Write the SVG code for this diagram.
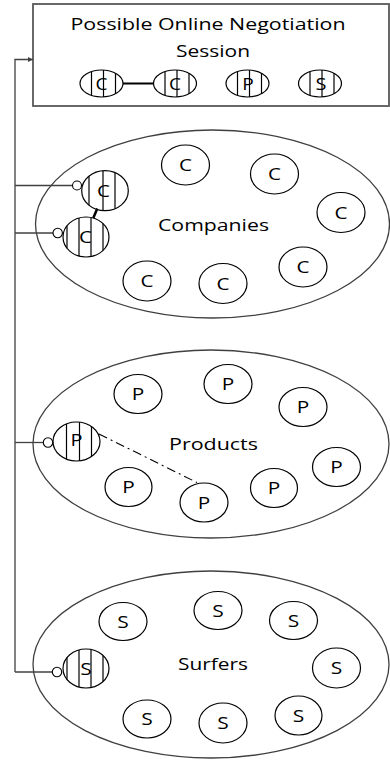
<svg xmlns="http://www.w3.org/2000/svg" width="390" height="760" viewBox="0 0 390 760">
<style>
  .bg{fill:#ffffff}
  .box{fill:#ffffff;stroke:#595959;stroke-width:1.8}
  .set{fill:none;stroke:#404040;stroke-width:1.3}
  .el{fill:#ffffff;stroke:#000000;stroke-width:1.2}
  .hatch{stroke:#000000;stroke-width:1.2}
  .t{font-family:"Open Sans","Liberation Sans",sans-serif;font-size:17px;fill:#000000;text-anchor:middle}
  .conn{fill:none;stroke:#404040;stroke-width:1.3}
  .dot{fill:#ffffff;stroke:#000000;stroke-width:1.1}
</style>
<defs>
  <marker id="arr" viewBox="0 0 10 10" refX="10" refY="5" markerWidth="5" markerHeight="7" markerUnits="userSpaceOnUse" orient="auto">
    <path d="M0,0 L10,5 L0,10 Z" fill="#404040"/>
  </marker>
</defs>
<rect class="bg" x="0" y="0" width="390" height="760"/>

<g id="session">
  <rect class="box" x="33" y="4" width="356" height="102"/>
  <text class="t" x="208" y="30" textLength="275" lengthAdjust="spacingAndGlyphs">Possible Online Negotiation</text>
  <text class="t" x="213" y="57" textLength="74" lengthAdjust="spacingAndGlyphs">Session</text>
  <g id="s-c1">
    <ellipse class="el" cx="101.5" cy="83.5" rx="21.5" ry="13.5"/>
    <line class="hatch" x1="91.5" y1="71.6" x2="91.5" y2="95.4"/>
    <line class="hatch" x1="103.5" y1="70.1" x2="103.5" y2="96.9"/>
    <line class="hatch" x1="115.5" y1="73.3" x2="115.5" y2="93.7"/>
    <text class="t" x="101.5" y="90" textLength="12" lengthAdjust="spacingAndGlyphs">C</text>
  </g>
  <g id="s-c2">
    <ellipse class="el" cx="175" cy="83.5" rx="21.5" ry="13.5"/>
    <line class="hatch" x1="165" y1="71.6" x2="165" y2="95.4"/>
    <line class="hatch" x1="177" y1="70.1" x2="177" y2="96.9"/>
    <line class="hatch" x1="189" y1="73.3" x2="189" y2="93.7"/>
    <text class="t" x="175" y="90" textLength="12" lengthAdjust="spacingAndGlyphs">C</text>
  </g>
  <g id="s-p">
    <ellipse class="el" cx="247.5" cy="83.5" rx="21.5" ry="13.5"/>
    <line class="hatch" x1="237.5" y1="71.6" x2="237.5" y2="95.4"/>
    <line class="hatch" x1="249.5" y1="70.1" x2="249.5" y2="96.9"/>
    <line class="hatch" x1="261.5" y1="73.3" x2="261.5" y2="93.7"/>
    <text class="t" x="248" y="90" textLength="11.5" lengthAdjust="spacingAndGlyphs">P</text>
  </g>
  <g id="s-s">
    <ellipse class="el" cx="320" cy="83.5" rx="21.5" ry="13.5"/>
    <line class="hatch" x1="310" y1="71.6" x2="310" y2="95.4"/>
    <line class="hatch" x1="322" y1="70.1" x2="322" y2="96.9"/>
    <line class="hatch" x1="334" y1="73.3" x2="334" y2="93.7"/>
    <text class="t" x="321" y="90" textLength="11" lengthAdjust="spacingAndGlyphs">S</text>
  </g>
</g>

<g id="companies">
  <ellipse class="set" cx="212.5" cy="224" rx="177" ry="94"/>
  <text class="t" x="213.5" y="231" textLength="111" lengthAdjust="spacingAndGlyphs">Companies</text>
  <g id="c1"><ellipse class="el" cx="185.5" cy="165" rx="24" ry="20"/><text class="t" x="185.5" y="171" textLength="13" lengthAdjust="spacingAndGlyphs">C</text></g>
  <g id="c2"><ellipse class="el" cx="274.5" cy="174" rx="24" ry="20"/><text class="t" x="274.5" y="180" textLength="13" lengthAdjust="spacingAndGlyphs">C</text></g>
  <g id="c3"><ellipse class="el" cx="341" cy="212.5" rx="24" ry="20"/><text class="t" x="341" y="218.5" textLength="13" lengthAdjust="spacingAndGlyphs">C</text></g>
  <g id="c4"><ellipse class="el" cx="303" cy="267" rx="24" ry="20"/><text class="t" x="303" y="273" textLength="13" lengthAdjust="spacingAndGlyphs">C</text></g>
  <g id="c5"><ellipse class="el" cx="147" cy="281" rx="24" ry="20"/><text class="t" x="147" y="287" textLength="13" lengthAdjust="spacingAndGlyphs">C</text></g>
  <g id="c6"><ellipse class="el" cx="223" cy="283.5" rx="24" ry="20"/><text class="t" x="223" y="289.5" textLength="13" lengthAdjust="spacingAndGlyphs">C</text></g>
  <g id="c-sel1">
    <ellipse class="el" cx="105" cy="190.7" rx="23.3" ry="20"/>
    <line class="hatch" x1="89" y1="176.2" x2="89" y2="205.2"/>
    <line class="hatch" x1="103" y1="170.8" x2="103" y2="210.6"/>
    <line class="hatch" x1="115" y1="172.6" x2="115" y2="208.8"/>
    <text class="t" x="103.5" y="196.7" textLength="13" lengthAdjust="spacingAndGlyphs">C</text>
  </g>
  <g id="c-sel2">
    <ellipse class="el" cx="86" cy="237" rx="23" ry="20"/>
    <line class="hatch" x1="67" y1="225.7" x2="67" y2="248.3"/>
    <line class="hatch" x1="79" y1="218" x2="79" y2="256"/>
    <line class="hatch" x1="91" y1="217.5" x2="91" y2="256.5"/>
    <line class="hatch" x1="103" y1="223.5" x2="103" y2="250.5"/>
    <text class="t" x="85.5" y="243.3" textLength="13" lengthAdjust="spacingAndGlyphs">C</text>
  </g>
</g>

<g id="products">
  <ellipse class="set" cx="211" cy="444" rx="178" ry="94"/>
  <text class="t" x="213.5" y="450" textLength="89" lengthAdjust="spacingAndGlyphs">Products</text>
  <g id="p1"><ellipse class="el" cx="138" cy="394" rx="24" ry="19.5"/><text class="t" x="138" y="400" textLength="12.5" lengthAdjust="spacingAndGlyphs">P</text></g>
  <g id="p2"><ellipse class="el" cx="228" cy="384" rx="24" ry="19.5"/><text class="t" x="228" y="390" textLength="12.5" lengthAdjust="spacingAndGlyphs">P</text></g>
  <g id="p3"><ellipse class="el" cx="303" cy="407" rx="24" ry="19.5"/><text class="t" x="303" y="413" textLength="12.5" lengthAdjust="spacingAndGlyphs">P</text></g>
  <g id="p4"><ellipse class="el" cx="336.5" cy="467" rx="24" ry="19.5"/><text class="t" x="336.5" y="473" textLength="12.5" lengthAdjust="spacingAndGlyphs">P</text></g>
  <g id="p5"><ellipse class="el" cx="274" cy="488" rx="23.5" ry="19.5"/><text class="t" x="274" y="494" textLength="12.5" lengthAdjust="spacingAndGlyphs">P</text></g>
  <g id="p6"><ellipse class="el" cx="204" cy="502.5" rx="24" ry="19.5"/><text class="t" x="204" y="508.5" textLength="12.5" lengthAdjust="spacingAndGlyphs">P</text></g>
  <g id="p7"><ellipse class="el" cx="128.5" cy="487" rx="23.5" ry="19.5"/><text class="t" x="128.5" y="493" textLength="12.5" lengthAdjust="spacingAndGlyphs">P</text></g>
  <g id="p-sel">
    <ellipse class="el" cx="76.5" cy="441.5" rx="23.5" ry="19.5"/>
    <line class="hatch" x1="66.5" y1="423.9" x2="66.5" y2="459.1"/>
    <line class="hatch" x1="79.5" y1="422.2" x2="79.5" y2="460.8"/>
    <line class="hatch" x1="91.5" y1="426.5" x2="91.5" y2="456.5"/>
    <text class="t" x="76.5" y="446" textLength="12" lengthAdjust="spacingAndGlyphs">P</text>
  </g>
</g>

<g id="surfers">
  <ellipse class="set" cx="211" cy="664.5" rx="178" ry="93.5"/>
  <text class="t" x="213" y="670" textLength="70" lengthAdjust="spacingAndGlyphs">Surfers</text>
  <g id="s1"><ellipse class="el" cx="123" cy="621.5" rx="24" ry="19"/><text class="t" x="123" y="627.5" textLength="11.5" lengthAdjust="spacingAndGlyphs">S</text></g>
  <g id="s2"><ellipse class="el" cx="218" cy="610.5" rx="24" ry="19"/><text class="t" x="218" y="616.5" textLength="11.5" lengthAdjust="spacingAndGlyphs">S</text></g>
  <g id="s3"><ellipse class="el" cx="293.5" cy="620.5" rx="24" ry="19"/><text class="t" x="293.5" y="626.5" textLength="11.5" lengthAdjust="spacingAndGlyphs">S</text></g>
  <g id="s4"><ellipse class="el" cx="336.5" cy="668" rx="24" ry="20"/><text class="t" x="336.5" y="674" textLength="11.5" lengthAdjust="spacingAndGlyphs">S</text></g>
  <g id="s5"><ellipse class="el" cx="298.5" cy="715.5" rx="23.5" ry="19.5"/><text class="t" x="298.5" y="721.5" textLength="11.5" lengthAdjust="spacingAndGlyphs">S</text></g>
  <g id="s6"><ellipse class="el" cx="223" cy="723" rx="24" ry="20"/><text class="t" x="223" y="729" textLength="11.5" lengthAdjust="spacingAndGlyphs">S</text></g>
  <g id="s7"><ellipse class="el" cx="147" cy="719" rx="24" ry="19"/><text class="t" x="147" y="725" textLength="11.5" lengthAdjust="spacingAndGlyphs">S</text></g>
  <g id="s-sel">
    <ellipse class="el" cx="86" cy="668.5" rx="23" ry="19.5"/>
    <line class="hatch" x1="67" y1="657.5" x2="67" y2="679.5"/>
    <line class="hatch" x1="79" y1="649.9" x2="79" y2="687.1"/>
    <line class="hatch" x1="91" y1="649.5" x2="91" y2="687.5"/>
    <line class="hatch" x1="103" y1="655.4" x2="103" y2="681.6"/>
    <text class="t" x="86" y="674.5" textLength="11.5" lengthAdjust="spacingAndGlyphs">S</text>
  </g>
</g>

<g id="connectors">
  <polyline class="conn" points="15,672 15,59.5 33,59.5" marker-end="url(#arr)"/>
  <line class="conn" x1="15" y1="185.5" x2="72.5" y2="185.5"/>
  <line class="conn" x1="15" y1="233" x2="53" y2="233"/>
  <line class="conn" x1="15" y1="442.5" x2="43.5" y2="442.5"/>
  <line class="conn" x1="15" y1="672" x2="52.5" y2="672"/>
  <circle class="dot" cx="77" cy="185.5" r="4.5"/>
  <circle class="dot" cx="57.7" cy="233" r="4.7"/>
  <circle class="dot" cx="48" cy="442.5" r="4.7"/>
  <circle class="dot" cx="57" cy="672" r="4.7"/>
  <line x1="123" y1="83.5" x2="153.5" y2="83.5" stroke="#000000" stroke-width="2"/>
  <line x1="97.3" y1="208.6" x2="93.3" y2="218" stroke="#000000" stroke-width="2.5"/>
  <line x1="99" y1="434" x2="197" y2="482.5" stroke="#000000" stroke-width="1.1" stroke-dasharray="9 4 2 4"/>
</g>
</svg>
